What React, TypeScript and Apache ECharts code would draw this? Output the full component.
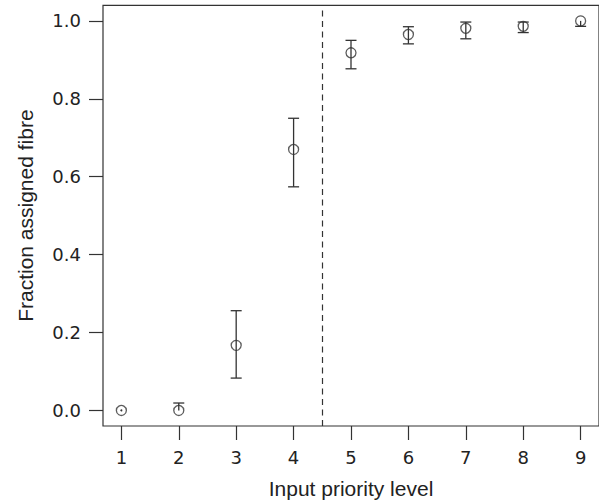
import React, { useEffect, useRef } from "react";
import * as echarts from "echarts";

const levels = [1, 2, 3, 4, 5, 6, 7, 8, 9];
const fraction = [0, 0, 0.167, 0.67, 0.918, 0.965, 0.981, 0.986, 1.0];
const lower = [0, 0, 0.083, 0.574, 0.877, 0.941, 0.954, 0.97, 0.986];
const upper = [0, 0.019, 0.256, 0.75, 0.95, 0.985, 0.997, 0.997, 1.0];
const xTicks = [1, 2, 3, 4, 5, 6, 7, 8, 9];
const yTicks = [0, 0.2, 0.4, 0.6, 0.8, 1.0];
const cutoff = 4.5;

const LINE = "#333333";
const TEXT = "#222222";

export default function App() {
  const ref = useRef<HTMLDivElement>(null);
  useEffect(() => {
    if (!ref.current) return;
    const chart = echarts.init(ref.current, undefined, { renderer: "svg" });
    const pointData = levels.map((x, i) => [x, fraction[i]]);
    const barData = levels.map((x, i) => [x, lower[i], upper[i], fraction[i]]);
    chart.setOption({
      animation: false,
      backgroundColor: "#ffffff",
      grid: {
        left: 103,
        top: 5.3,
        width: 502,
        height: 422,
        show: true,
        borderColor: LINE,
        borderWidth: 1.2,
        backgroundColor: "transparent",
      },
      xAxis: {
        type: "value",
        min: 0.68,
        max: 9.32,
        name: "Input priority level",
        nameLocation: "middle",
        nameGap: 52,
        nameTextStyle: { fontFamily: "Liberation Sans", fontSize: 21, color: TEXT },
        axisLine: { show: false, onZero: false },
        splitLine: { show: false },
        axisTick: {
          show: true,
          inside: false,
          length: 14,
          customValues: xTicks,
          lineStyle: { color: LINE, width: 1.2 },
        },
        axisLabel: {
          show: true,
          customValues: xTicks,
          margin: 22,
          fontFamily: "DejaVu Sans",
          fontSize: 18,
          color: TEXT,
          formatter: (v: number) => String(Math.round(v)),
        },
      },
      yAxis: {
        type: "value",
        min: -0.04,
        max: 1.04,
        name: "Fraction assigned fibre",
        nameLocation: "middle",
        nameGap: 67,
        nameTextStyle: { fontFamily: "Liberation Sans", fontSize: 21, color: TEXT },
        axisLine: { show: false, onZero: false },
        splitLine: { show: false },
        axisTick: {
          show: true,
          inside: false,
          length: 14,
          customValues: yTicks,
          lineStyle: { color: LINE, width: 1.2 },
        },
        axisLabel: {
          show: true,
          customValues: yTicks,
          margin: 22,
          fontFamily: "DejaVu Sans",
          fontSize: 18,
          color: TEXT,
          formatter: (v: number) => v.toFixed(1),
        },
      },
      series: [
        {
          type: "custom",
          clip: false,
          silent: true,
          data: barData,
          encode: { x: 0, y: [1, 2] },
          renderItem: (params: any, api: any) => {
            const x = api.value(0);
            const lo = api.value(1);
            const hi = api.value(2);
            const pt = api.value(3);
            const pLo = api.coord([x, lo]);
            const pHi = api.coord([x, hi]);
            const style = { stroke: LINE, lineWidth: 1.3 };
            const w = 5.5;
            const children: any[] = [];
            if (Math.abs(hi - lo) < 1e-9) {
              children.push({
                type: "circle",
                shape: { cx: pLo[0], cy: pLo[1], r: 1 },
                style: { fill: LINE },
              });
            } else {
              children.push({
                type: "line",
                shape: { x1: pLo[0], y1: pLo[1], x2: pHi[0], y2: pHi[1] },
                style,
              });
              if (Math.abs(lo - pt) > 1e-9) {
                children.push({
                  type: "line",
                  shape: { x1: pLo[0] - w, y1: pLo[1], x2: pLo[0] + w, y2: pLo[1] },
                  style,
                });
              }
              if (Math.abs(hi - pt) > 1e-9) {
                children.push({
                  type: "line",
                  shape: { x1: pHi[0] - w, y1: pHi[1], x2: pHi[0] + w, y2: pHi[1] },
                  style,
                });
              }
            }
            return { type: "group", children };
          },
        },
        {
          type: "scatter",
          data: pointData,
          symbol: "circle",
          symbolSize: 10,
          silent: true,
          itemStyle: { color: "rgba(0,0,0,0)", borderColor: LINE, borderWidth: 1.3 },
          markLine: {
            silent: true,
            symbol: ["none", "none"],
            label: { show: false },
            lineStyle: { color: LINE, type: [6, 4.5], width: 1.2 },
            data: [{ xAxis: cutoff }],
          },
        },
      ],
    });
    return () => chart.dispose();
  }, []);
  return (
    <div
      ref={ref}
      style={{ position: "absolute", left: 0, top: 0, width: 599, height: 504 }}
    />
  );
}
